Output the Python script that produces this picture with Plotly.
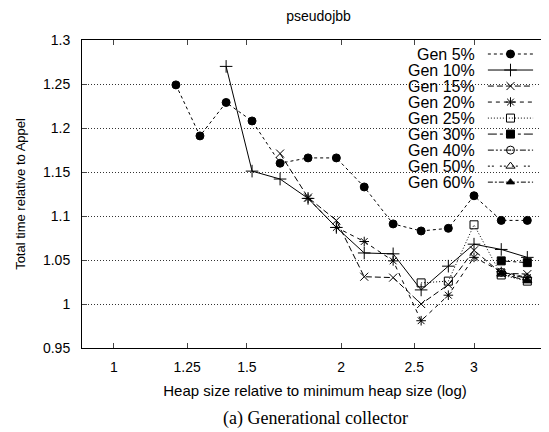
import math

import plotly.graph_objects as go

# heap sizes (relative to minimum heap) - all series end at the last one
heap = [1.208, 1.300, 1.408, 1.524, 1.660, 1.808, 1.971, 2.146, 2.344, 2.553, 2.774, 3.0, 3.26, 3.53]

gen5 = [1.249, 1.191, 1.229, 1.208, 1.160, 1.166, 1.166, 1.133, 1.091, 1.083, 1.086, 1.123, 1.095, 1.095]
gen10 = [1.270, 1.151, 1.142, 1.120, 1.087, 1.058, 1.057, 1.016, 1.043, 1.068, 1.062, 1.053]
gen15 = [1.171, 1.121, 1.095, 1.031, 1.030, 1.000, 1.022, 1.061, 1.035, 1.034]
gen20 = [1.120, 1.087, 1.071, 1.049, 0.981, 1.010, 1.053, 1.037, 1.030]
gen25 = [1.024, 1.026, 1.090, 1.033, 1.026]
gen30 = [1.049, 1.047]
gen40 = [1.036, 1.029]
gen50 = [1.034, 1.027]
gen60 = [1.035, 1.026]

names = ["Gen 5%", "Gen 10%", "Gen 15%", "Gen 20%", "Gen 25%", "Gen 30%", "Gen 40%", "Gen 50%", "Gen 60%"]
series = [gen5, gen10, gen15, gen20, gen25, gen30, gen40, gen50, gen60]

x_ticks = [1, 1.25, 1.5, 2, 2.5, 3]
y_ticks = [0.95, 1, 1.05, 1.1, 1.15, 1.2, 1.25, 1.3]

# gnuplot-ish line / point styles
dashes = ["3px,3px", "solid", "6px,3px", "4px,4px", "1px,2px", "dashdot",
          "6px,2px,2px,2px,2px,2px", "2px,2px,2px,6px", "5px,2px,2px,2px"]
symbols = ["circle", "cross-thin-open", "x-thin-open", "asterisk-open", "square-open",
           "square", "circle-open-dot", "triangle-up-open", "triangle-up"]
sizes = [8, 9, 8, 8, 8, 8, 8, 8, 7]

fig = go.Figure()
for name, vals, dash, sym, sz in zip(names, series, dashes, symbols, sizes):
    fig.add_trace(go.Scatter(
        x=heap[-len(vals):], y=vals, name=name, mode="lines+markers", showlegend=False,
        line=dict(color="black", width=1, dash=dash),
        marker=dict(symbol=sym, size=sz, color="black", line=dict(color="black", width=1)),
    ))

# gnuplot style key: text right aligned, sample to the right of it
key_top, key_step = 0.9545, 0.052
key_text_x, key_x0, key_x1 = 0.848, 0.871, 0.968
for i, (name, dash, sym, sz) in enumerate(zip(names, dashes, symbols, sizes)):
    ky = key_top - i * key_step
    fig.add_trace(go.Scatter(
        x=[key_x0, (key_x0 + key_x1) / 2, key_x1], y=[ky, ky, ky],
        xaxis="x2", yaxis="y2", mode="lines", showlegend=False, hoverinfo="skip",
        line=dict(color="black", width=1, dash=dash),
    ))
    fig.add_trace(go.Scatter(
        x=[(key_x0 + key_x1) / 2], y=[ky], xaxis="x2", yaxis="y2", mode="markers",
        showlegend=False, hoverinfo="skip",
        marker=dict(symbol=sym, size=sz, color="black", line=dict(color="black", width=1)),
    ))
    fig.add_annotation(text=name, xref="paper", yref="paper", x=key_text_x, y=ky,
                       xanchor="right", yanchor="middle", showarrow=False,
                       font=dict(size=16))

# the page has an 8px body margin, so the figure is 8px smaller than the window
font = "Liberation Sans, Arial, sans-serif"
fig.update_layout(
    width=541, height=424,
    margin=dict(l=74, r=1, t=32, b=84),
    paper_bgcolor="white", plot_bgcolor="white",
    font=dict(family=font, size=13, color="black"),
    title=dict(text="pseudojbb", x=0.574, xanchor="center", y=0.981, yanchor="middle",
               font=dict(size=14)),
    showlegend=False,
    xaxis2=dict(overlaying="x", range=[0, 1], visible=False, fixedrange=True),
    yaxis2=dict(overlaying="y", range=[0, 1], visible=False, fixedrange=True),
)
fig.update_layout(xaxis=dict(
    type="log", range=[math.log10(0.907), math.log10(3.76)], automargin=False,
    tickvals=x_ticks, ticktext=[str(t) for t in x_ticks], tickfont=dict(size=14),
    ticks="inside", ticklen=5, showline=True, linecolor="black", linewidth=1,
    mirror="ticks", showgrid=False, zeroline=False, ticklabelstandoff=6,
    title=dict(text="Heap size relative to minimum heap size (log)", standoff=11,
               font=dict(size=15)),
))
fig.update_layout(yaxis=dict(
    range=[0.95, 1.3], automargin=False,
    tickvals=y_ticks, ticktext=[f"{t:g}" for t in y_ticks], tickfont=dict(size=14),
    ticks="inside", ticklen=5, showline=True, linecolor="black", linewidth=1,
    mirror="ticks", showgrid=True, gridcolor="#333", griddash="1px,2px", gridwidth=1,
    zeroline=False, ticklabelstandoff=8,
    title=dict(text="Total time relative to Appel", standoff=14, font=dict(size=13)),
))
fig.add_annotation(text="(a) Generational collector", xref="paper", yref="paper",
                   x=0.5, y=-0.228, xanchor="center", yanchor="middle", showarrow=False,
                   font=dict(family="Liberation Serif, Times New Roman, serif", size=18))

fig.write_html("out.html")
